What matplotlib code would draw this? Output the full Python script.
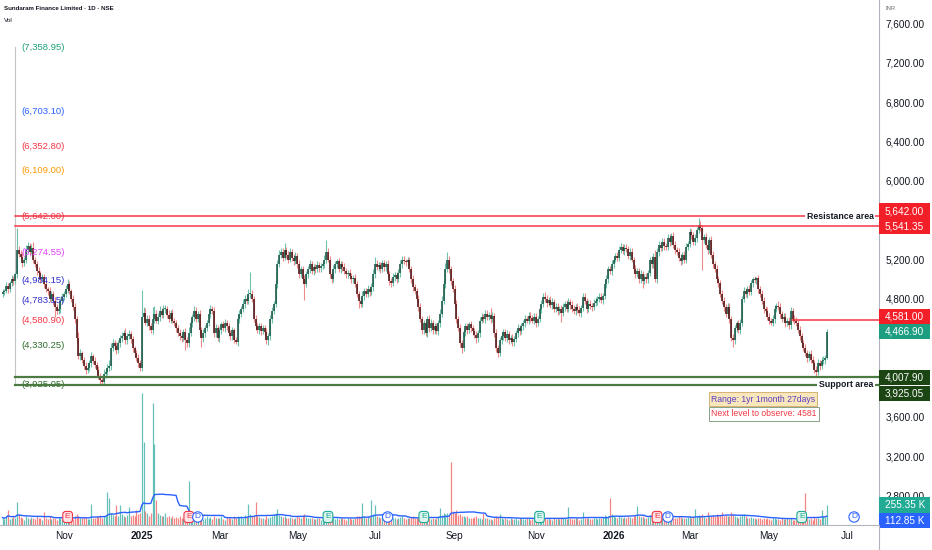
import matplotlib
matplotlib.use('Agg')
import matplotlib.pyplot as plt
from matplotlib.patches import Rectangle
from matplotlib.lines import Line2D
from matplotlib.transforms import blended_transform_factory as blend
import numpy as np
import pandas as pd

# Sundaram Finance, daily bars from 16 Sep 2024 to 16 Jun 2026
closes = [
    4870, 4880, 4930, 4900, 4960, 5000, 4980, 5050, 5300, 5260,
    5230, 5160, 5200, 5300, 5340, 5280, 5320, 5200, 5150, 5080,
    5060, 5000, 5020, 4950, 4900, 4880, 4800, 4850, 4780, 4720,
    4680, 4700, 4780, 4820, 4850, 4900, 4950, 4880, 4800, 4720,
    4600, 4400, 4220, 4250, 4180, 4120, 4080, 4100, 4150, 4220,
    4170, 4130, 4080, 4020, 3980, 3960, 4040, 4060, 4100, 4120,
    4300, 4350, 4320, 4280, 4350, 4400, 4420, 4450, 4380, 4420,
    4440, 4390, 4300, 4250, 4200, 4150, 4100, 4620, 4660, 4560,
    4600, 4520, 4480, 4600, 4650, 4580, 4620, 4680, 4640, 4700,
    4700, 4640, 4600, 4660, 4580, 4560, 4500, 4450, 4420, 4400,
    4460, 4380, 4350, 4450, 4550, 4620, 4680, 4600, 4650, 4480,
    4400, 4450, 4500, 4560, 4650, 4700, 4680, 4450, 4500, 4400,
    4480, 4540, 4500, 4560, 4520, 4450, 4420, 4480, 4380, 4360,
    4600, 4650, 4700, 4750, 4800, 4780, 4850, 4850, 4800, 4600,
    4520, 4480, 4520, 4470, 4500, 4460, 4380, 4420, 4600, 4680,
    4750, 4950, 5150, 5250, 5280, 5220, 5300, 5250, 5200, 5280,
    5220, 5180, 5240, 5150, 5050, 5100, 5000, 4950, 5050, 5100,
    5150, 5080, 5120, 5100, 5140, 5110, 5130, 5150, 5200, 5280,
    5200, 5050, 5000, 5100, 5150, 5180, 5100, 5150, 5120, 5080,
    5050, 5060, 5030, 5000, 5010, 4950, 4850, 4780, 4750, 4830,
    4880, 4850, 4900, 4870, 4920, 5050, 5150, 5120, 5140, 5100,
    5160, 5120, 5150, 5050, 4980, 4960, 5020, 5040, 5000, 5060,
    5150, 5200, 5180, 5170, 5190, 5100, 5000, 4920, 4880, 4800,
    4720, 4600, 4480, 4550, 4450, 4600, 4500, 4560, 4480, 4520,
    4470, 4550, 4650, 4780, 4950, 5100, 5200, 5100, 4980, 4900,
    4750, 4600, 4500, 4350, 4300, 4460, 4520, 4480, 4540, 4500,
    4470, 4430, 4400, 4450, 4580, 4620, 4600, 4650, 4620, 4640,
    4600, 4630, 4450, 4300, 4250, 4380, 4420, 4460, 4400, 4440,
    4380, 4400, 4360, 4390, 4450, 4500, 4470, 4520, 4550, 4600,
    4580, 4630, 4610, 4580, 4620, 4550, 4600, 4700, 4750, 4820,
    4800, 4760, 4790, 4740, 4770, 4700, 4720, 4680, 4700, 4660,
    4720, 4750, 4700, 4770, 4740, 4700, 4680, 4720, 4690, 4660,
    4710, 4820, 4780, 4700, 4750, 4730, 4720, 4760, 4780, 4800,
    4820, 4790, 4830, 4950, 5000, 5100, 5080, 5150, 5200, 5240,
    5220, 5300, 5330, 5290, 5320, 5310, 5240, 5280, 5200, 5100,
    5050, 5080, 5000, 5050, 4980, 5020, 5000, 5060, 5200, 5150,
    5230, 5000, 5280, 5350, 5320, 5380, 5340, 5330, 5420, 5380,
    5440, 5350, 5300, 5280, 5220, 5180, 5250, 5200, 5330, 5360,
    5480, 5450, 5380, 5420, 5500, 5550, 5520, 5400, 5430, 5350,
    5300, 5400, 5250, 5150, 5100, 5000, 4960, 4850, 4780, 4720,
    4650, 4720, 4600, 4400, 4380, 4500, 4550, 4480, 4560, 4800,
    4880, 4850, 4900, 4870, 4960, 5000, 4990, 5010, 4900, 4850,
    4780, 4700, 4680, 4620, 4580, 4560, 4600, 4700, 4730, 4720,
    4650, 4600, 4620, 4550, 4580, 4530, 4680, 4600, 4580, 4560,
    4480, 4420, 4350, 4300, 4250, 4200, 4240, 4180, 4150, 4080,
    4060, 4150, 4120, 4170, 4180, 4200, 4466.90,
]
first_open = 4850

# wick lengths above / below the body, INR
wick_up = [
    30, 25, 40, 35, 20, 45, 30, 25, 217, 40,
    35, 50, 30, 45, 40, 30, 35, 60, 25, 30,
    40, 25, 35, 30, 45, 20, 40, 30, 25, 35,
    30, 40, 25, 35, 30, 45, 50, 30, 25, 40,
    35, 30, 60, 40, 25, 30, 35, 50, 30, 40,
    25, 35, 30, 40, 30, 25, 45, 30, 40, 60,
    50, 40, 30, 45, 35, 30, 40, 35, 50, 30,
    40, 30, 35, 25, 30, 40, 30, 270, 60, 45,
    40, 35, 30, 120, 80, 40, 35, 50, 30, 40,
    35, 30, 45, 30, 40, 25, 30, 35, 40, 30,
    35, 40, 30, 60, 40, 30, 45, 35, 30, 40,
    30, 40, 35, 30, 45, 40, 30, 35, 40, 30,
    35, 30, 40, 35, 30, 40, 35, 30, 25, 30,
    40, 35, 30, 45, 40, 35, 50, 226, 40, 30,
    35, 30, 40, 30, 35, 30, 40, 30, 35, 40,
    30, 45, 40, 50, 35, 40, 64, 30, 40, 35,
    30, 40, 35, 30, 40, 35, 30, 40, 35, 30,
    40, 30, 35, 30, 40, 35, 30, 35, 50, 118,
    40, 35, 30, 40, 35, 30, 40, 35, 30, 40,
    30, 35, 40, 30, 35, 40, 30, 35, 40, 45,
    35, 30, 40, 35, 40, 50, 79, 40, 35, 30,
    40, 30, 35, 40, 30, 35, 40, 30, 35, 40,
    45, 40, 35, 30, 40, 35, 30, 40, 35, 30,
    40, 35, 30, 40, 35, 30, 40, 35, 30, 40,
    35, 40, 45, 50, 40, 60, 79, 40, 35, 30,
    40, 35, 30, 40, 35, 30, 40, 35, 30, 40,
    35, 30, 40, 35, 40, 35, 30, 40, 35, 30,
    70, 35, 30, 40, 35, 30, 40, 35, 30, 40,
    35, 30, 40, 35, 30, 40, 35, 30, 40, 35,
    30, 40, 35, 30, 40, 35, 30, 40, 35, 40,
    50, 35, 30, 40, 35, 30, 40, 35, 30, 40,
    35, 30, 40, 35, 30, 40, 35, 30, 40, 35,
    30, 40, 35, 30, 40, 35, 30, 40, 35, 30,
    40, 35, 30, 45, 40, 35, 30, 40, 35, 30,
    40, 35, 34, 30, 40, 35, 30, 40, 35, 30,
    40, 35, 30, 40, 35, 30, 40, 35, 30, 40,
    35, 67, 40, 35, 30, 40, 35, 30, 40, 35,
    30, 40, 35, 30, 40, 35, 30, 40, 35, 30,
    40, 35, 30, 40, 35, 68, 40, 35, 30, 40,
    35, 30, 40, 35, 30, 40, 35, 30, 40, 35,
    30, 40, 35, 30, 40, 35, 30, 40, 35, 30,
    40, 35, 30, 40, 35, 25, 30, 15, 35, 30,
    40, 35, 30, 40, 35, 30, 40, 35, 30, 50,
    35, 30, 40, 35, 30, 40, 35, 30, 40, 35,
    30, 40, 35, 30, 40, 35, 30, 40, 35, 30,
    40, 35, 30, 40, 35, 30, 28,
]
wick_dn = [
    30, 35, 25, 40, 30, 25, 35, 30, 40, 30,
    25, 35, 30, 40, 30, 35, 25, 40, 30, 35,
    30, 40, 25, 35, 30, 40, 35, 30, 40, 100,
    35, 30, 40, 25, 30, 35, 40, 30, 35, 30,
    40, 35, 30, 40, 35, 30, 40, 35, 30, 40,
    35, 30, 40, 35, 55, 30, 35, 40, 30, 35,
    40, 30, 35, 40, 30, 35, 40, 30, 35, 40,
    30, 35, 40, 30, 35, 40, 30, 35, 40, 30,
    35, 40, 30, 35, 40, 30, 35, 40, 30, 35,
    40, 30, 35, 40, 30, 35, 40, 30, 35, 40,
    30, 100, 35, 40, 30, 35, 40, 30, 35, 40,
    86, 35, 40, 30, 35, 40, 30, 35, 40, 30,
    35, 40, 30, 35, 40, 30, 35, 40, 30, 15,
    35, 40, 30, 35, 40, 30, 35, 40, 30, 35,
    40, 30, 35, 40, 30, 35, 40, 49, 35, 40,
    30, 35, 40, 30, 35, 40, 30, 35, 40, 30,
    35, 40, 30, 35, 40, 30, 35, 162, 30, 35,
    40, 30, 35, 40, 30, 35, 40, 30, 35, 40,
    30, 35, 40, 30, 35, 40, 30, 35, 40, 30,
    35, 40, 30, 35, 40, 30, 35, 77, 30, 35,
    40, 30, 35, 40, 30, 35, 40, 30, 35, 40,
    30, 35, 40, 30, 35, 40, 30, 35, 40, 30,
    35, 40, 30, 35, 40, 30, 35, 40, 30, 35,
    40, 30, 35, 40, 30, 35, 40, 30, 35, 40,
    30, 35, 40, 30, 35, 40, 30, 35, 40, 30,
    35, 40, 30, 35, 54, 30, 35, 40, 30, 35,
    40, 30, 52, 35, 40, 30, 35, 40, 30, 35,
    40, 30, 35, 40, 38, 30, 35, 40, 30, 35,
    40, 30, 35, 40, 30, 35, 40, 30, 35, 40,
    30, 35, 40, 30, 35, 40, 30, 35, 40, 30,
    35, 40, 30, 35, 40, 30, 35, 40, 30, 90,
    35, 40, 30, 35, 40, 30, 35, 40, 30, 35,
    40, 30, 35, 40, 30, 35, 40, 30, 35, 40,
    30, 35, 40, 30, 35, 40, 30, 35, 40, 30,
    35, 40, 30, 35, 40, 30, 35, 40, 30, 35,
    40, 30, 35, 40, 70, 30, 35, 40, 30, 35,
    40, 30, 35, 40, 30, 35, 40, 30, 35, 40,
    30, 35, 40, 30, 35, 40, 30, 35, 40, 30,
    35, 40, 30, 35, 40, 30, 35, 307, 30, 35,
    40, 30, 35, 40, 30, 35, 40, 30, 35, 40,
    30, 35, 40, 30, 66, 35, 40, 30, 35, 40,
    30, 35, 40, 30, 35, 40, 30, 35, 40, 30,
    35, 40, 30, 35, 40, 30, 35, 40, 30, 35,
    40, 30, 35, 40, 30, 35, 40, 30, 35, 40,
    30, 35, 40, 30, 35, 40, 30, 35, 40, 30,
    52, 35, 40, 30, 35, 40, 10,
]
# daily volume, thousands of shares
volume_k = [
    95, 80, 110, 190, 75, 90, 120, 85, 290, 140,
    100, 85, 70, 120, 95, 80, 105, 90, 75, 110,
    85, 95, 70, 170, 90, 80, 115, 75, 95, 85,
    70, 100, 90, 80, 75, 95, 85, 70, 110, 80,
    120, 140, 110, 95, 85, 100, 90, 80, 75, 270,
    95, 85, 110, 100, 130, 90, 120, 110, 420, 350,
    150, 130, 110, 260, 120, 250, 140, 110, 100, 125,
    230, 115, 130, 120, 190, 140, 150, 1690, 1060, 180,
    150, 120, 160, 1560, 1040, 320, 160, 130, 110, 120,
    150, 100, 110, 90, 120, 95, 100, 85, 110, 90,
    80, 120, 100, 560, 140, 110, 95, 85, 120, 100,
    90, 80, 95, 110, 85, 100, 75, 120, 90, 85,
    95, 110, 80, 70, 100, 90, 85, 75, 110, 95,
    120, 100, 110, 90, 130, 100, 270, 140, 110, 120,
    290, 110, 100, 85, 95, 80, 110, 90, 100, 120,
    140, 150, 200, 130, 110, 100, 120, 95, 85, 100,
    90, 80, 95, 110, 100, 85, 120, 140, 100, 90,
    85, 95, 80, 75, 90, 85, 70, 95, 110, 130,
    100, 120, 95, 85, 80, 90, 75, 85, 95, 80,
    70, 85, 90, 75, 80, 95, 110, 120, 100, 280,
    110, 95, 120, 100, 320, 140, 260, 120, 100, 90,
    110, 95, 85, 100, 90, 80, 95, 85, 75, 90,
    100, 110, 85, 80, 95, 90, 100, 110, 95, 85,
    100, 120, 130, 90, 110, 85, 95, 80, 90, 75,
    85, 110, 220, 130, 150, 140, 160, 120, 806, 180,
    150, 190, 130, 140, 120, 110, 100, 120, 95, 90,
    85, 100, 110, 90, 95, 80, 150, 85, 90, 75,
    80, 70, 95, 110, 100, 140, 85, 75, 90, 80,
    70, 85, 75, 80, 90, 70, 85, 95, 80, 75,
    90, 85, 70, 80, 95, 85, 75, 110, 100, 90,
    85, 80, 95, 75, 70, 85, 80, 90, 75, 95,
    85, 90, 80, 230, 95, 80, 75, 90, 85, 70,
    80, 170, 95, 85, 90, 80, 75, 85, 90, 80,
    95, 85, 100, 130, 120, 110, 345, 140, 110, 100,
    95, 110, 100, 90, 105, 95, 110, 100, 90, 120,
    110, 240, 120, 100, 110, 95, 90, 100, 130, 110,
    120, 150, 130, 110, 100, 95, 110, 100, 120, 90,
    100, 85, 95, 90, 110, 100, 90, 85, 95, 100,
    110, 90, 100, 200, 120, 130, 110, 140, 100, 95,
    165, 110, 120, 130, 110, 140, 120, 130, 165, 120,
    130, 110, 120, 165, 140, 110, 100, 95, 110, 130,
    140, 110, 95, 90, 100, 85, 95, 80, 90, 85,
    80, 90, 75, 85, 80, 70, 85, 90, 80, 75,
    70, 85, 80, 75, 90, 80, 95, 70, 65, 60,
    75, 70, 80, 85, 410, 90, 80, 95, 70, 100,
    95, 85, 75, 190, 110, 96.6, 255.35,
]

fib_levels = [7358.95, 6703.10, 6352.80, 6109.00, 5642.00, 5274.55,
              4984.15, 4783.15, 4580.90, 4330.25, 3925.05]
fib_colors = ['#1f9e7a', '#2962ff', '#f23645', '#ff9800', '#f23645', '#e040fb',
              '#2f2fc8', '#2f2fc8', '#f23645', '#2e6b2e', '#2e6b2e']
resistance = [5642.00, 5541.35]
support = [4007.90, 3925.05]
next_level = 4581.00

# (bar index, kind, colour) for earnings / dividend badges
events = [(36, 'E', 'red'), (103, 'E', 'red'), (108, 'D', 'blue'), (180, 'E', 'teal'),
          (213, 'D', 'blue'), (233, 'E', 'teal'), (297, 'E', 'teal'), (362, 'E', 'red'),
          (368, 'D', 'blue'), (442, 'E', 'teal'), (471, 'D', 'blue')]

# ---- geometry (pixels of a 932x550 canvas)
W, H = 932, 550
AX_R, AX_B = 879, 525          # right edge of plot, bottom edge of plot
X0, PX_BAR = 2.53, 1.808       # x of bar 0, px per bar
YTOP, YBOT = 7836.6, 2502.6    # price at top / bottom of plot
INR_PX = (YTOP - YBOT) / AX_B
VOL_TOP = AX_B * 12.8          # thousand shares at top of plot
K_PX = VOL_TOP / AX_B


def bx(px):
    return (px - X0) / PX_BAR


def py(px):
    return YTOP - px * INR_PX


n = len(closes)
idx = np.arange(n)
c = np.array(closes, dtype=float)
o = np.array([first_open] + closes[:-1], dtype=float)
hi = np.maximum(o, c) + np.array(wick_up)
lo = np.minimum(o, c) - np.array(wick_dn)
up = c >= o
vol = pd.Series(volume_k, dtype=float)
vol_ma = vol.rolling(20, min_periods=1).mean()

days = pd.bdate_range('2024-09-16', periods=500)

fig = plt.figure(figsize=(W / 100, H / 100), dpi=100)
fig.patch.set_facecolor('white')
rect = [0, (H - AX_B) / H, AX_R / W, AX_B / H]
vax = fig.add_axes(rect)
ax = fig.add_axes(rect, sharex=vax)
ax.patch.set_visible(False)
vax.axis('off')
vax.set_ylim(0, VOL_TOP)
ax.set_xlim(bx(0), bx(AX_R))
ax.set_ylim(YBOT, YTOP)

# ---- volume
vcol = np.where(up, '#26a69a', '#ef5350')
vax.vlines(idx, 0, vol, colors=vcol, alpha=0.7, linewidth=0.9, capstyle='butt')
vax.plot(idx, vol_ma, color='#2962ff', lw=1.0)

# ---- candles
ax.vlines(idx, lo, hi, colors=np.where(up, '#6fc2ad', '#ee8a8a'), linewidth=0.8, zorder=2)
ax.vlines(idx, np.minimum(o, c), np.minimum(o, c) + np.maximum(np.abs(c - o), 8),
          colors=np.where(up, '#1a5545', '#4a1414'), linewidth=1.15, capstyle='butt', zorder=3)

# ---- fib tool labels and edge
ax.plot([bx(15), bx(15)], [fib_levels[-1], fib_levels[0]], color='#c4c4c4', lw=0.8, zorder=1)
for lvl, col in zip(fib_levels, fib_colors):
    ax.text(bx(21), lvl, f'({lvl:,.2f})', color=col, fontsize=6.8, va='center', ha='left',
            family='Liberation Sans', zorder=4)

# ---- drawn levels
xr = bx(AX_R)
for lvl in resistance:
    ax.plot([bx(15), xr], [lvl, lvl], color='#f23645', lw=1.1, zorder=5, clip_on=False)
for lvl in support:
    ax.plot([bx(15), xr], [lvl, lvl], color='#4b7a43', lw=1.6, zorder=5, clip_on=False)
ax.plot([bx(792), xr], [next_level, next_level], color='#f23645', lw=1.1, zorder=5)
ax.text(bx(840), resistance[0], 'Resistance area', fontsize=6.3, fontweight='bold',
        family='Liberation Sans', ha='center', va='center', color='#131722', zorder=6,
        bbox=dict(fc='white', ec='none', pad=1.2))
ax.text(bx(846), support[1], 'Support area', fontsize=6.3, fontweight='bold',
        family='Liberation Sans', ha='center', va='center', color='#131722', zorder=6,
        bbox=dict(fc='white', ec='none', pad=1.2))

ax.text(bx(763), py(399), 'Range: 1yr 1month 27days', fontsize=6.2, family='Liberation Sans',
        color='#5b3cc4', ha='center', va='center', zorder=6,
        bbox=dict(boxstyle='square,pad=0.25', fc='#f9e7bc', ec='#d6b274', lw=0.7))
ax.text(bx(764), py(414), f'Next level to observe: {next_level:.0f}', fontsize=6.2,
        family='Liberation Sans', color='#f23645', ha='center', va='center', zorder=6,
        bbox=dict(boxstyle='square,pad=0.25', fc='white', ec='#86a386', lw=0.7))

# ---- event badges
ev_style = {'red': ('#f23645', '#fde3e5'), 'teal': ('#22ab94', '#dcf3ee'), 'blue': ('#2962ff', 'white')}
trE = blend(vax.transData, vax.transAxes)
for i, kind, col in events:
    ec, fc = ev_style[col]
    box = 'circle,pad=0.2' if kind == 'D' else 'round,pad=0.25,rounding_size=0.35'
    vax.text(i, 8 / AX_B, kind, transform=trE, fontsize=6.0, color=ec, ha='center', va='center',
             family='Liberation Sans', clip_on=False,
             bbox=dict(boxstyle=box, fc=fc, ec=ec, lw=0.8))

# ---- axes, ticks
for s in ['top', 'left']:
    ax.spines[s].set_visible(False)
for s in ['bottom', 'right']:
    ax.spines[s].set_color('#b2b5be')
    ax.spines[s].set_linewidth(0.8)
ax.yaxis.tick_right()
ticks = np.arange(2800, 7601, 400)
hidden = {4000, 4400, 5600}    # covered by the level tags
ax.set_yticks(ticks)
ax.set_yticklabels(['' if t in hidden else f'{t:,.2f}' for t in ticks])
ax.tick_params(axis='y', length=0, pad=4.5, labelsize=7.2, labelcolor='#131722')
for lab in ax.get_yticklabels():
    lab.set_family('Liberation Sans')

mstart = [j for j in range(1, len(days)) if days[j].month != days[j - 1].month and days[j].month % 2 == 1]
mstart = [j for j in mstart if bx(0) < j < bx(AX_R)]
ax.set_xticks(mstart)
ax.set_xticklabels([str(days[j].year) if days[j].month == 1 else days[j].strftime('%b') for j in mstart])
ax.tick_params(axis='x', length=0, pad=4.5, labelsize=7.2, labelcolor='#131722')
for j, lab in zip(mstart, ax.get_xticklabels()):
    lab.set_family('Liberation Sans')
    if days[j].month == 1:
        lab.set_fontweight('bold')

fig.add_artist(Line2D([AX_R / W, AX_R / W], [0, (H - AX_B) / H], color='#b2b5be', lw=0.8))

# ---- price scale tags
trP = blend(ax.transAxes, ax.transData)
trV = blend(ax.transAxes, vax.transData)
TAG_W = 51 / AX_R
TAG_H = 15.5


def tag(val, text, face, tr, upx, shift=0.0):
    yc = val - shift * upx
    ax.add_patch(Rectangle((1.0, yc - TAG_H / 2 * upx), TAG_W, TAG_H * upx, transform=tr,
                           fc=face, ec='none', clip_on=False, zorder=10))
    ax.text(1.0 + 6 / AX_R, yc, text, transform=tr, color='white', fontsize=7.2,
            family='Liberation Sans', va='center', ha='left', clip_on=False, zorder=11)


tag(resistance[0], f'{resistance[0]:,.2f}', '#f21f28', trP, INR_PX, -5)
tag(resistance[1], f'{resistance[1]:,.2f}', '#f21f28', trP, INR_PX, 0.6)
tag(next_level, f'{next_level:,.2f}', '#f21f28', trP, INR_PX, -4)
tag(c[-1], f'{c[-1]:,.2f}', '#1e9e80', trP, INR_PX, 0)
tag(support[0], f'{support[0]:,.2f}', '#1b4513', trP, INR_PX, 0.6)
tag(support[1], f'{support[1]:,.2f}', '#1b4513', trP, INR_PX, 8.5)
tag(vol.iloc[-1], f'{vol.iloc[-1]:.2f} K', '#22ab94', trV, K_PX, 0)
tag(vol_ma.iloc[-1], f'{vol_ma.iloc[-1]:.2f} K', '#2962ff', trV, K_PX, 4.5)

# ---- header texts
fig.text(4 / W, 1 - 9 / H, 'Sundaram Finance Limited · 1D · NSE', fontsize=4.4, fontweight='bold',
         family='Liberation Sans', color='#131722', va='center', ha='left')
fig.text(4 / W, 1 - 20 / H, 'Vol', fontsize=4.6, family='Liberation Sans', color='#131722',
         va='center', ha='left')
fig.text(885 / W, 1 - 8 / H, 'INR', fontsize=4.2, family='Liberation Sans', color='#6a6d78',
         va='center', ha='left')

fig.savefig('out.png', dpi=100, facecolor='white')
